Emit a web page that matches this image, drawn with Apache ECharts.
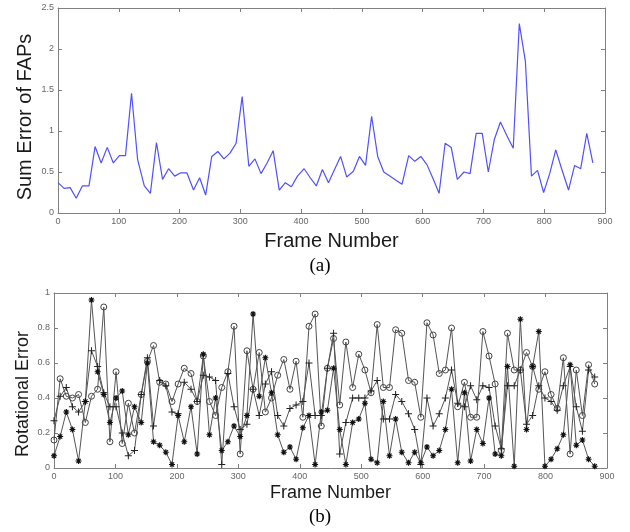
<!DOCTYPE html>
<html>
<head>
<meta charset="utf-8">
<title>FAP / rotational error</title>
<script src="https://cdn.jsdelivr.net/npm/echarts/dist/echarts.min.js"></script>
<style>
html,body{margin:0;padding:0;background:#fff;}
#main{width:630px;height:532px;}
</style>
</head>
<body>
<div id="main"></div>
<script>
// frame numbers of the 88 samples (shared by both plots)
var frames = [
    0, 10, 20, 30, 40, 51, 61, 71, 81, 91,
    101, 111, 121, 131, 142, 152, 162, 172, 182, 192,
    202, 212, 223, 233, 243, 253, 263, 273, 283, 293,
    303, 314, 324, 334, 344, 354, 364, 374, 384, 394,
    405, 415, 425, 435, 445, 455, 465, 475, 486, 496,
    506, 516, 526, 536, 546, 556, 566, 577, 587, 597,
    607, 617, 627, 637, 647, 657, 668, 678, 688, 698,
    708, 718, 728, 738, 749, 759, 769, 779, 789, 799,
    809, 819, 829, 840, 850, 860, 870, 880
];

// (a) sum error of FAPs
var fapErr = [
    0.37, 0.30, 0.31, 0.18, 0.33, 0.33, 0.81, 0.61, 0.80, 0.61,
    0.70, 0.70, 1.46, 0.65, 0.33, 0.24, 0.86, 0.41, 0.54, 0.45,
    0.49, 0.49, 0.28, 0.43, 0.22, 0.69, 0.75, 0.66, 0.73, 0.85,
    1.42, 0.57, 0.66, 0.48, 0.61, 0.76, 0.28, 0.37, 0.32, 0.45,
    0.54, 0.43, 0.33, 0.53, 0.37, 0.53, 0.69, 0.44, 0.51, 0.69,
    0.58, 1.18, 0.69, 0.50, 0.45, 0.40, 0.35, 0.70, 0.63, 0.69,
    0.59, 0.42, 0.24, 0.85, 0.80, 0.41, 0.50, 0.48, 0.97, 0.97,
    0.50, 0.90, 1.11, 0.95, 0.79, 2.31, 1.85, 0.45, 0.52, 0.25,
    0.48, 0.77, 0.53, 0.28, 0.58, 0.54, 0.97, 0.61
];

// (b) rotational error, three runs (o, +, *)
var rotCircle = [
    0.16, 0.51, 0.41, 0.40, 0.42, 0.26, 0.41, 0.45, 0.92, 0.15,
    0.55, 0.14, 0.37, 0.20, 0.42, 0.61, 0.70, 0.49, 0.48, 0.38,
    0.48, 0.57, 0.54, 0.38, 0.64, 0.38, 0.30, 0.46, 0.55, 0.81,
    0.08, 0.67, 0.45, 0.66, 0.32, 0.40, 0.53, 0.62, 0.45, 0.61,
    0.29, 0.81, 0.88, 0.24, 0.57, 0.74, 0.36, 0.72, 0.46, 0.65,
    0.56, 0.43, 0.82, 0.46, 0.46, 0.79, 0.77, 0.50, 0.49, 0.29,
    0.83, 0.76, 0.54, 0.56, 0.80, 0.35, 0.49, 0.29, 0.29, 0.78,
    0.64, 0.48, 0.10, 0.77, 0.56, 0.56, 0.66, 0.58, 0.45, 0.55,
    0.42, 0.34, 0.63, 0.08, 0.56, 0.30, 0.59, 0.48
];
var rotPlus = [
    0.27, 0.41, 0.46, 0.35, 0.32, 0.38, 0.67, 0.58, 0.43, 0.35,
    0.35, 0.20, 0.07, 0.10, 0.42, 0.63, 0.24, 0.50, 0.47, 0.32,
    0.31, 0.49, 0.45, 0.38, 0.53, 0.52, 0.50, 0.02, 0.54, 0.35,
    0.22, 0.25, 0.45, 0.30, 0.48, 0.55, 0.30, 0.24, 0.34, 0.36,
    0.38, 0.60, 0.30, 0.30, 0.57, 0.77, 0.08, 0.26, 0.40, 0.40,
    0.40, 0.44, 0.50, 0.28, 0.28, 0.42, 0.38, 0.31, 0.22, 0.02,
    0.40, 0.24, 0.31, 0.40, 0.56, 0.37, 0.35, 0.47, 0.39, 0.47,
    0.46, 0.24, 0.11, 0.47, 0.47, 0.56, 0.25, 0.30, 0.47, 0.40,
    0.38, 0.33, 0.47, 0.58, 0.35, 0.21, 0.56, 0.52
];
var rotStar = [
    0.07, 0.18, 0.32, 0.22, 0.04, 0.38, 0.96, 0.55, 0.42, 0.26,
    0.40, 0.44, 0.19, 0.35, 0.26, 0.60, 0.15, 0.13, 0.09, 0.02,
    0.30, 0.15, 0.35, 0.08, 0.65, 0.19, 0.40, 0.10, 0.15, 0.24,
    0.18, 0.30, 0.88, 0.41, 0.63, 0.43, 0.19, 0.09, 0.12, 0.05,
    0.23, 0.30, 0.02, 0.32, 0.33, 0.57, 0.22, 0.02, 0.26, 0.28,
    0.37, 0.05, 0.03, 0.38, 0.07, 0.28, 0.09, 0.03, 0.09, 0.03,
    0.12, 0.07, 0.10, 0.22, 0.45, 0.03, 0.43, 0.04, 0.22, 0.14,
    0.40, 0.08, 0.07, 0.58, 0.01, 0.85, 0.22, 0.58, 0.78, 0.01,
    0.05, 0.11, 0.19, 0.59, 0.13, 0.16, 0.05, 0.01
];

function pairs(ys) {
    var out = [];
    for (var i = 0; i < frames.length; i++) out.push([frames[i], ys[i]]);
    return out;
}

var frameCol = '#808080';
var tickLbl = {fontSize: 9, color: '#666', fontFamily: 'Liberation Sans'};

function nameStyle(fs) {
    return {fontSize: fs, color: '#1a1a1a', fontFamily: 'Liberation Sans'};
}

// axis with ticks inside, MATLAB box style
function xAx(grid, pos, withLabels, name, gap, fs) {
    return {
        type: 'value', gridIndex: grid, position: pos,
        min: 0, max: 900, interval: 100,
        axisLine: {show: true, onZero: false, lineStyle: {color: frameCol, width: 1}},
        axisTick: {show: true, inside: true, length: 4, lineStyle: {color: frameCol}},
        axisLabel: withLabels ? Object.assign({show: true, margin: 4}, tickLbl) : {show: false},
        splitLine: {show: false},
        name: name || '', nameLocation: 'middle', nameGap: gap || 0,
        nameTextStyle: nameStyle(fs || 19)
    };
}
function yAx(grid, pos, max, step, withLabels) {
    return {
        type: 'value', gridIndex: grid, position: pos,
        min: 0, max: max, interval: step,
        axisLine: {show: true, onZero: false, lineStyle: {color: frameCol, width: 1}},
        axisTick: {show: true, inside: true, length: 4, lineStyle: {color: frameCol}},
        axisLabel: withLabels ? Object.assign({show: true, margin: 4}, tickLbl) : {show: false},
        splitLine: {show: false}
    };
}

// rotated y titles and panel captions
function vText(txt, x, y, fs) {
    return {type: 'text', x: x, y: y, rotation: Math.PI / 2,
        style: {text: txt, fill: '#1a1a1a', font: fs + 'px "Liberation Sans"',
            align: 'center', verticalAlign: 'middle', textAlign: 'center', textVerticalAlign: 'middle'}};
}
function caption(txt, x, y) {
    return {type: 'text', x: x, y: y,
        style: {text: txt, fill: '#000', font: '19px "Liberation Serif"',
            align: 'center', verticalAlign: 'middle', textAlign: 'center', textVerticalAlign: 'middle'}};
}

var myChart = echarts.init(document.getElementById('main'), null, {renderer: 'canvas'});

var plusPath = 'path://M0,5L10,5M5,0L5,10';
var starPath = 'path://M0,5L10,5M5,0L5,10M1.5,1.5L8.5,8.5M1.5,8.5L8.5,1.5';

var option = {
    backgroundColor: '#fff',
    animation: false,
    grid: [
        {left: 58, top: 8, width: 547, height: 205, show: false},
        {left: 54, top: 293, width: 553, height: 175, show: false}
    ],
    xAxis: [
        xAx(0, 'bottom', true, 'Frame Number', 18, 20),
        xAx(0, 'top', false),
        xAx(1, 'bottom', true, 'Frame Number', 16, 18),
        xAx(1, 'top', false)
    ],
    yAxis: [
        yAx(0, 'left', 2.5, 0.5, true),
        yAx(0, 'right', 2.5, 0.5, false),
        yAx(1, 'left', 1, 0.2, true),
        yAx(1, 'right', 1, 0.2, false)
    ],
    graphic: [
        vText('Sum Error of FAPs', 25, 117, 20),
        vText('Rotational Error', 23, 394, 18),
        caption('(a)', 320, 266),
        caption('(b)', 320, 517)
    ],
    series: [
        {
            name: 'FAP', type: 'line', xAxisIndex: 0, yAxisIndex: 0,
            data: pairs(fapErr), showSymbol: false, symbol: 'none',
            lineStyle: {color: '#5050ff', width: 1.2}
        },
        {
            name: 'o', type: 'line', xAxisIndex: 2, yAxisIndex: 2,
            data: pairs(rotCircle), symbol: 'circle', symbolSize: 6,
            lineStyle: {color: '#555', width: 1},
            itemStyle: {color: 'rgba(255,255,255,0)', borderColor: '#444', borderWidth: 1}
        },
        {
            name: '+', type: 'line', xAxisIndex: 2, yAxisIndex: 2,
            data: pairs(rotPlus), symbol: plusPath, symbolSize: 7,
            lineStyle: {color: '#555', width: 1},
            itemStyle: {color: '#222', borderColor: '#222', borderWidth: 1}
        },
        {
            name: '*', type: 'line', xAxisIndex: 2, yAxisIndex: 2,
            data: pairs(rotStar), symbol: starPath, symbolSize: 6,
            lineStyle: {color: '#555', width: 1},
            itemStyle: {color: '#111', borderColor: '#111', borderWidth: 1.2}
        }
    ]
};

myChart.setOption(option);
</script>
</body>
</html>
